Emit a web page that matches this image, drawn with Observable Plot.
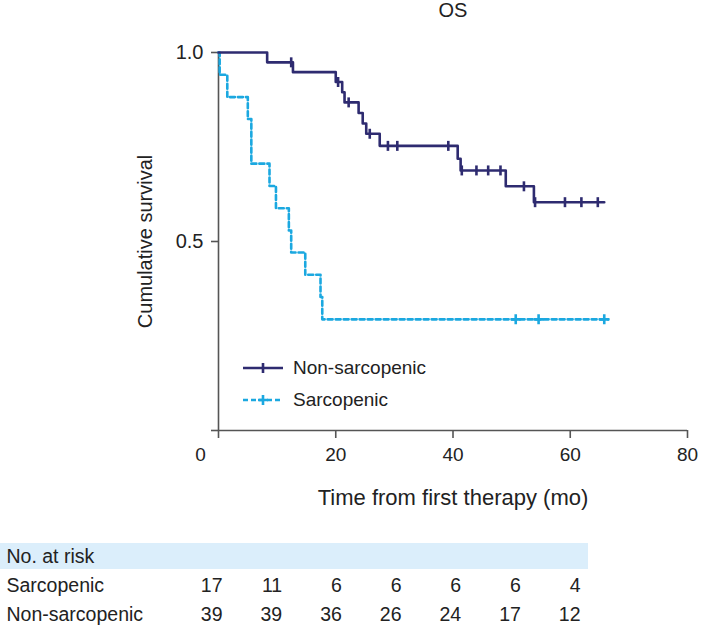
<!DOCTYPE html>
<html><head><meta charset="utf-8">
<script src="https://cdn.jsdelivr.net/npm/d3@7"></script>
<script src="https://cdn.jsdelivr.net/npm/@observablehq/plot@0.6"></script>
<style>
body{margin:0;background:#fff;font-family:"Liberation Sans",Arial,sans-serif;}
#wrap{position:relative;width:701px;height:628px;overflow:hidden;background:#fff}
#wrap > svg{display:block}
.leg{position:absolute;left:243px;height:22px;display:flex;align-items:center;font-size:19px;color:#222;white-space:nowrap}
.leg svg{margin-right:10px;display:block}
</style></head><body><div id="wrap"></div>
<script>
// ---- data ----
const nonTime = [0, 8.3, 12.7, 20.0, 21.1, 21.5, 23.9, 24.6, 25.2, 27.5, 40.8, 41.3, 49.0, 53.8, 65.8];
const nonSurv = [1.0, 0.974, 0.948, 0.922, 0.895, 0.868, 0.840, 0.812, 0.785, 0.753, 0.719, 0.688, 0.646, 0.604, 0.604];
const nonCensTime = [12.4, 20.4, 22.2, 25.8, 28.9, 30.5, 39.2, 41.5, 44.0, 46.0, 48.1, 52.1, 54.0, 59.1, 61.9, 64.7];
const nonCensSurv = [0.974, 0.922, 0.868, 0.785, 0.753, 0.753, 0.753, 0.688, 0.688, 0.688, 0.688, 0.646, 0.604, 0.604, 0.604, 0.604];

const sarTime = [0, 0.2, 1.5, 5.0, 5.6, 8.7, 9.8, 12.0, 12.4, 14.8, 17.4, 17.7, 66.5];
const sarSurv = [1.0, 0.941, 0.882, 0.824, 0.706, 0.647, 0.588, 0.529, 0.471, 0.412, 0.353, 0.294, 0.294];
const sarCensTime = [50.7, 54.6, 65.8];
const sarCensSurv = [0.294, 0.294, 0.294];

const xTicks = [0, 20, 40, 60, 80];
const yTicks = [0, 0.5, 1.0];
const yTickLabels = ["", "0.5", "1.0"];

const riskRows = ["No. at risk", "Sarcopenic", "Non-sarcopenic"];
const riskTimes = [0, 10, 20, 30, 40, 50, 60];
const riskSarc = [17, 11, 6, 6, 6, 6, 4];
const riskNon = [39, 39, 36, 26, 24, 17, 12];

const seriesNames = ["Non-sarcopenic", "Sarcopenic"];
const navy = "#2e2b70";
const cyan = "#1ba8e0";
const axisColor = "#555";
const textColor = "#222";

// ---- tables for Plot ----
const nonData = nonTime.map((t, i) => ({t, s: nonSurv[i]}));
const sarData = sarTime.map((t, i) => ({t, s: sarSurv[i]}));
const nonCens = nonCensTime.map((t, i) => ({t, s: nonCensSurv[i]}));
const sarCens = sarCensTime.map((t, i) => ({t, s: sarCensSurv[i]}));

const vtick = {draw(ctx) { ctx.moveTo(0, -5); ctx.lineTo(0, 5); }};
const plus = {draw(ctx) { ctx.moveTo(-5, 0); ctx.lineTo(5, 0); ctx.moveTo(0, -5); ctx.lineTo(0, 5); }};

const main = Plot.plot({
  width: 701, height: 525,
  marginTop: 52, marginBottom: 95, marginLeft: 218, marginRight: 14,
  style: {fontFamily: '"Liberation Sans", Arial, sans-serif', fontSize: "19px", color: textColor, background: "#fff"},
  x: {domain: [0, 80]},
  y: {domain: [0, 1]},
  marks: [
    Plot.ruleX([0], {y1: 0, y2: 1, stroke: axisColor, strokeWidth: 1.6}),
    Plot.ruleY([0], {x1: 0, x2: 80, stroke: axisColor, strokeWidth: 1.6}),
    Plot.axisY(yTicks, {tickSize: 7, tickPadding: 8, stroke: axisColor, strokeWidth: 1.6, fontSize: 20,
      tickFormat: d => yTickLabels[yTicks.indexOf(d)], label: null}),
    Plot.axisX(xTicks, {tickSize: 8, tickPadding: 9, stroke: axisColor, strokeWidth: 1.6, fontSize: 19, label: null,
      tickFormat: d => d === xTicks[0] ? "" : String(d)}),
    Plot.axisX([xTicks[0]], {tickSize: 0, tickPadding: 17, fontSize: 19, dx: -18, label: null}),
    Plot.text(["Cumulative survival"], {frameAnchor: "left", textAnchor: "middle", rotate: -90, dx: -73, fontSize: 20, fill: textColor}),
    Plot.text(["Time from first therapy (mo)"], {frameAnchor: "bottom", dy: 67, lineAnchor: "middle", fontSize: 22, fill: textColor}),
    Plot.text(["OS"], {frameAnchor: "top", dy: -42, lineAnchor: "middle", fontSize: 20, fill: textColor}),
    Plot.line(sarData, {x: "t", y: "s", curve: "step-after", stroke: cyan, strokeWidth: 2.6, strokeDasharray: "5,3"}),
    Plot.line(nonData, {x: "t", y: "s", curve: "step-after", stroke: navy, strokeWidth: 2.6}),
    Plot.dot(sarCens, {x: "t", y: "s", symbol: plus, stroke: cyan, strokeWidth: 2.6, fill: "none"}),
    Plot.dot(nonCens, {x: "t", y: "s", symbol: vtick, stroke: navy, strokeWidth: 2.6, fill: "none"})
  ]
});

const riskData = [];
riskTimes.forEach((t, i) => {
  riskData.push({row: riskRows[1], t, n: riskSarc[i]});
  riskData.push({row: riskRows[2], t, n: riskNon[i]});
});

const table = Plot.plot({
  width: 701, height: 105,
  marginTop: 16, marginBottom: 0, marginLeft: 0, marginRight: 113,
  style: {fontFamily: '"Liberation Sans", Arial, sans-serif', fontSize: "19px", color: textColor, background: "#fff"},
  x: {domain: [0, 60], range: [222, 580], axis: null},
  y: {type: "band", domain: riskRows, padding: 0, axis: null},
  marks: [
    Plot.cell([riskRows[0]], {y: d => d, fill: "#dbeefb", insetTop: 1, insetBottom: 2}),
    Plot.text(riskRows, {y: d => d, frameAnchor: "left", textAnchor: "start", dx: 6, fill: textColor, fontSize: 19.5}),
    Plot.text(riskData, {x: "t", y: "row", text: "n", textAnchor: "end", fill: textColor, fontSize: 19.5})
  ]
});

const wrap = document.getElementById("wrap");
wrap.appendChild(main);
wrap.appendChild(table);

// legend (HTML overlay inside the plot area)
function legendRow(name, color, dashed, sym, top) {
  const div = document.createElement("div");
  div.className = "leg";
  div.style.top = top + "px";
  const ns = "http://www.w3.org/2000/svg";
  const s = document.createElementNS(ns, "svg");
  s.setAttribute("width", 40); s.setAttribute("height", 14);
  const l = document.createElementNS(ns, "line");
  l.setAttribute("x1", 0); l.setAttribute("x2", 40); l.setAttribute("y1", 7); l.setAttribute("y2", 7);
  l.setAttribute("stroke", color); l.setAttribute("stroke-width", 2.6);
  if (dashed) l.setAttribute("stroke-dasharray", "5,3");
  s.appendChild(l);
  const p = document.createElementNS(ns, "path");
  p.setAttribute("d", sym === "plus" ? "M15,7H25M20,2V12" : "M20,2V12");
  p.setAttribute("stroke", color); p.setAttribute("stroke-width", 2.6); p.setAttribute("fill", "none");
  s.appendChild(p);
  div.appendChild(s);
  const span = document.createElement("span");
  span.textContent = name;
  div.appendChild(span);
  wrap.appendChild(div);
}
legendRow(seriesNames[0], navy, false, "tick", 357);
legendRow(seriesNames[1], cyan, true, "plus", 389);
</script>
</body></html>
